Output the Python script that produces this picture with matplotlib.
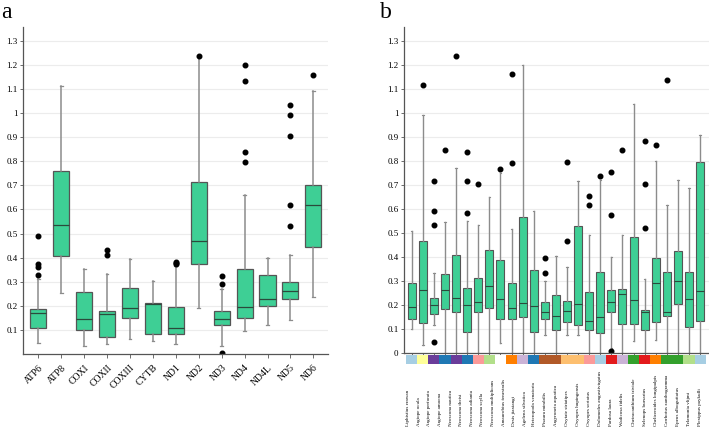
import numpy as np
import matplotlib.pyplot as plt
from matplotlib.transforms import blended_transform_factory

plt.rcParams['font.family'] = ['Liberation Serif', 'DejaVu Serif']

# ---- panel a: per-gene values ----
genes = ['ATP6', 'ATP8', 'COXI', 'COXII', 'COXIII', 'CYTB', 'ND1',
         'ND2', 'ND3', 'ND4', 'ND4L', 'ND5', 'ND6']
a_q1 = [0.107, 0.405, 0.100, 0.072, 0.151, 0.082, 0.085, 0.374, 0.121, 0.148, 0.200, 0.227, 0.445]
a_med = [0.172, 0.537, 0.144, 0.165, 0.192, 0.206, 0.107, 0.468, 0.144, 0.195, 0.227, 0.261, 0.620]
a_q3 = [0.188, 0.758, 0.257, 0.179, 0.272, 0.213, 0.197, 0.714, 0.179, 0.351, 0.328, 0.299, 0.703]
a_lo = [0.045, 0.255, 0.034, 0.041, 0.061, 0.052, 0.043, 0.192, 0.034, 0.096, 0.121, 0.143, 0.238]
a_hi = [0.312, 1.114, 0.351, 0.333, 0.395, 0.301, 0.365, 1.236, 0.268, 0.659, 0.399, 0.410, 1.093]
a_out = [[0.489, 0.372, 0.362, 0.328], [], [], [0.430, 0.410], [], [],
         [0.383, 0.378, 0.372], [1.236], [0.324, 0.289, 0.005],
         [1.199, 1.134, 0.837, 0.795], [], [1.034, 0.990, 0.906, 0.617, 0.530], [1.159]]

# ---- panel b: per-species values (27 boxes) ----
b_q1 = [0.143, 0.124, 0.162, 0.183, 0.169, 0.087, 0.169, 0.189, 0.140, 0.142, 0.149, 0.087, 0.140, 0.094,
        0.128, 0.117, 0.095, 0.085, 0.172, 0.120, 0.121, 0.094, 0.131, 0.154, 0.202, 0.107, 0.135]
b_med = [0.193, 0.261, 0.200, 0.261, 0.231, 0.200, 0.213, 0.278, 0.223, 0.186, 0.209, 0.195, 0.169, 0.156,
         0.175, 0.206, 0.135, 0.151, 0.213, 0.244, 0.220, 0.169, 0.293, 0.172, 0.300, 0.224, 0.259]
b_q3 = [0.292, 0.465, 0.230, 0.327, 0.408, 0.271, 0.314, 0.429, 0.388, 0.292, 0.567, 0.347, 0.213, 0.241,
        0.217, 0.527, 0.252, 0.337, 0.264, 0.266, 0.484, 0.179, 0.394, 0.336, 0.426, 0.336, 0.797]
b_lo = [0.100, 0.034, 0.117, 0, 0, 0, 0, 0, 0.041, 0, 0, 0, 0.076, 0,
        0.076, 0.076, 0, 0, 0.020, 0, 0.048, 0, 0.055, 0, 0, 0, 0]
b_hi = [0.508, 0.990, 0.335, 0.546, 0.770, 0.550, 0.534, 0.650, 0.750, 0.516, 1.200, 0.592, 0.300, 0.405,
        0.359, 0.716, 0.492, 0.720, 0.400, 0.490, 1.035, 0.310, 0.800, 0.617, 0.720, 0.685, 0.907]
b_out = [[], [1.114], [0.717, 0.592, 0.534, 0.044], [0.845], [1.237], [0.836, 0.718, 0.581],
         [0.703], [], [0.765], [1.160, 0.790], [], [], [0.395, 0.332], [], [0.796, 0.465], [],
         [0.654, 0.617], [0.738], [0.755, 0.574, 0.007], [0.845], [], [0.882, 0.703, 0.520],
         [0.865], [1.135], [], [], []]
group_colors = ['#a6cee3', '#ffff99', '#6a3d9a', '#1f78b4', '#6a3d9a', '#1f78b4', '#fb9a99',
                '#b2df8a', '#ffffff', '#ff7f00', '#cab2d6', '#1f78b4', '#b15928', '#b15928',
                '#fdbf6f', '#fdbf6f', '#fb9a99', '#a6cee3', '#e31a1c', '#cab2d6', '#33a02c',
                '#e31a1c', '#ff7f00', '#33a02c', '#33a02c', '#b2df8a', '#a6cee3']

# species names printed under panel b (28 names in the source figure)
species = ['Liphistius erawan', 'Argiope ocula', 'Argiope perforata', 'Argiope amoena',
           'Neoscona nautica', 'Neoscona theisi', 'Neoscona adianta', 'Neoscona scylla',
           'Neoscona multiplicans', 'Amaurobius fenestralis', 'Desis jiaxiangi',
           'Agelena silvatica', 'Heteropoda venatoria', 'Pisaura mirabilis',
           'Argyroneta aquatica', 'Oxytate striatipes', 'Oxyopes hupingensis',
           'Oxyopes sertatus', 'Dolomedes angustivirgatus', 'Pardosa laura',
           'Wadicosa fidelis', 'Cheiracanthium triviale', 'Selenops bursarius',
           'Cheliceroides longipalpis', 'Carrhotus xanthogramma', 'Epeus alboguttatus',
           'Telamonia vlijmi', 'Plexippus paykulli']

GREEN = '#3ecf95'


def make_stats(q1, med, q3, lo, hi, out):
    return [dict(q1=a, med=m, q3=b, whislo=l, whishi=h, fliers=f)
            for a, m, b, l, h, f in zip(q1, med, q3, lo, hi, out)]


def style_axis(ax):
    ax.spines['top'].set_visible(False)
    ax.spines['right'].set_visible(False)
    for s in ['left', 'bottom']:
        ax.spines[s].set_color('#555555')
        ax.spines[s].set_linewidth(0.9)
    ax.yaxis.grid(True, color='#ececec', linewidth=0.8)
    ax.set_axisbelow(True)
    ax.tick_params(axis='y', length=2.5, width=0.6, color='#555555', labelsize=6.5, pad=1.5)
    ax.tick_params(axis='x', length=3, width=0.6, color='#555555')


def draw_boxes(ax, stats, width, lw):
    ax.bxp(stats, positions=np.arange(len(stats)), widths=width, patch_artist=True,
           boxprops=dict(facecolor=GREEN, edgecolor='#555555', linewidth=lw),
           medianprops=dict(color='#2b4a3c', linewidth=lw),
           whiskerprops=dict(color='#8c8c8c', linewidth=lw + 0.2),
           capprops=dict(color='#8c8c8c', linewidth=lw),
           capwidths=0.12,
           flierprops=dict(marker='o', markerfacecolor='black', markeredgecolor='black',
                           markersize=3.3))


fig = plt.figure(figsize=(7.09, 4.28), dpi=100)

# panel a
axA = fig.add_axes([23 / 709, 1 - 354 / 428, 305 / 709, 327 / 428])
style_axis(axA)
draw_boxes(axA, make_stats(a_q1, a_med, a_q3, a_lo, a_hi, a_out), 0.7, 0.9)
axA.set_ylim(0, 1.357)
axA.set_xlim(-0.67, len(genes) - 0.36)
ticks_a = np.round(np.arange(0.1, 1.31, 0.1), 1)
axA.set_yticks(ticks_a)
axA.set_yticklabels(['%g' % v for v in ticks_a])
axA.set_xticks(np.arange(len(genes)))
axA.set_xticklabels(genes, rotation=45, ha='right', rotation_mode='anchor', fontsize=7)

# panel b
n_b = len(b_med)
axB = fig.add_axes([404 / 709, 1 - 353 / 428, 305 / 709, 326 / 428])
style_axis(axB)
draw_boxes(axB, make_stats(b_q1, b_med, b_q3, b_lo, b_hi, b_out), 0.72, 0.8)
axB.set_ylim(0, 1.357)
axB.set_xlim(-0.7, n_b - 0.2)
ticks_b = np.round(np.arange(0, 1.31, 0.1), 1)
axB.set_yticks(ticks_b)
axB.set_yticklabels(['%g' % v for v in ticks_b])
axB.set_xticks(np.arange(n_b))
axB.set_xticklabels([])
axB.tick_params(axis='x', length=4, direction='out')

# colour strip under the axis
trans = blended_transform_factory(axB.transData, axB.transAxes)
for i, c in enumerate(group_colors):
    axB.add_patch(plt.Rectangle((i - 0.5, -0.034), 1.0, 0.028, transform=trans,
                                facecolor=c, edgecolor='none', clip_on=False, zorder=1))

# species names, rotated, bottom aligned (28 names spread over 27 slots)
name_pos = np.concatenate([np.linspace(-0.33, 10.2, 12), np.arange(11, n_b)])
ftrans = blended_transform_factory(axB.transData, fig.transFigure)
for x, name in zip(name_pos, species):
    axB.text(x, 2 / 428, name, rotation=90, ha='center', va='bottom',
             fontsize=3.6, transform=ftrans)

fig.text(1 / 709, 1 - 18 / 428, 'a', fontsize=17, va='baseline')
fig.text(380 / 709, 1 - 18 / 428, 'b', fontsize=17, va='baseline')

fig.savefig('out.png', dpi=100)
